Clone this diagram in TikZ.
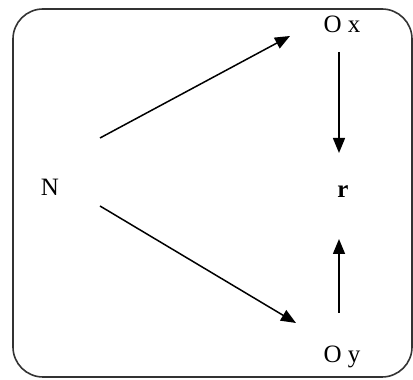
\documentclass[tikz,border=0pt]{standalone}
\usepackage{fontspec}
\setmainfont{Liberation Serif}
\usetikzlibrary{arrows.meta}
\begin{document}
\begin{tikzpicture}[x=1pt,y=1pt,
  lbl/.style={font=\fontsize{25}{29}\selectfont, inner sep=0pt, anchor=base},
  arr/.style={line width=1.5pt, -{Triangle[length=15pt,width=12pt]}}]
\useasboundingbox (0,0) rectangle (413,380);
\draw[line width=1.6pt, rounded corners=30pt, black!80] (13,3) rectangle (412,371);
\node[lbl] (N) at (50,184) {N};
\node[lbl] (Ox) at (342,347) {O x};
\node[lbl] (r) at (343,182) {\textbf{r}};
\node[lbl] (Oy) at (342,17) {O y};
\coordinate (a1) at (100,242);
\coordinate (a2) at (290,344);
\coordinate (b1) at (100,174);
\coordinate (b2) at (296,57);
\coordinate (c1) at (339,328);
\coordinate (c2) at (339,227);
\coordinate (d1) at (339,67);
\coordinate (d2) at (339,141);
\draw[arr] (a1) -- (a2);
\draw[arr] (b1) -- (b2);
\draw[arr] (c1) -- (c2);
\draw[arr] (d1) -- (d2);
\end{tikzpicture}
\end{document}
